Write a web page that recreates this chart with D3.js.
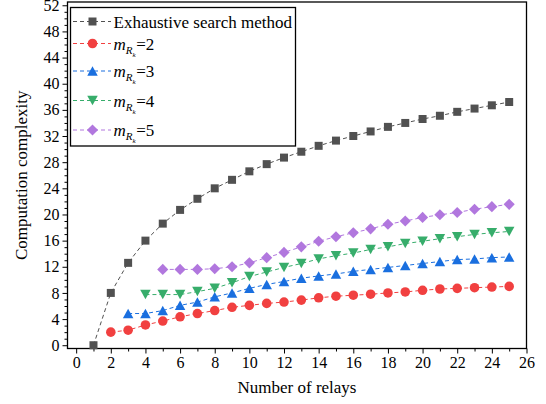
<!DOCTYPE html>
<html>
<head>
<meta charset="utf-8">
<script src="https://cdn.jsdelivr.net/npm/d3@7"></script>
<style>
  html, body { margin: 0; padding: 0; background: #fff; }
  svg { display: block; font-family: "Liberation Serif", "Times New Roman", serif; }
</style>
</head>
<body>
<svg id="chart" width="546" height="404"></svg>
<script>
// Number of relays for each curve
const relaysExhaustive = d3.range(1, 26);
const relaysM2 = d3.range(2, 26);
const relaysM3 = d3.range(3, 26);
const relaysM4 = d3.range(4, 26);
const relaysM5 = d3.range(5, 26);

// Computation complexity values
const exhaustiveValues = [0, 8.0, 12.6, 16.0, 18.6, 20.7, 22.4, 24.0, 25.3, 26.6, 27.7, 28.7, 29.6,
  30.5, 31.3, 32.0, 32.7, 33.4, 34.0, 34.6, 35.1, 35.7, 36.2, 36.7, 37.2];
const m2Values = [2.0, 2.3, 3.1, 3.7, 4.35, 4.85, 5.3, 5.8, 6.1, 6.4, 6.6, 6.9, 7.25, 7.5, 7.65,
  7.8, 8.0, 8.15, 8.4, 8.6, 8.7, 8.8, 8.9, 9.0];
const m3Values = [4.85, 4.85, 5.3, 6.1, 6.6, 7.4, 8.0, 8.7, 9.3, 9.75, 10.25, 10.6, 10.9, 11.3,
  11.6, 11.9, 12.2, 12.5, 12.8, 13.1, 13.2, 13.4, 13.5];
const m4Values = [7.75, 7.75, 7.75, 8.2, 8.7, 9.55, 10.5, 11.2, 11.9, 12.5, 13.2, 13.7, 14.1, 14.65,
  15.05, 15.55, 15.9, 16.3, 16.6, 16.95, 17.2, 17.4];
const m5Values = [11.6, 11.6, 11.6, 11.7, 12.0, 12.6, 13.4, 14.2, 15.05, 15.9, 16.6, 17.2, 17.8,
  18.5, 19.0, 19.55, 19.95, 20.3, 20.8, 21.2, 21.55];

const xTicks = d3.range(0, 27, 2);
const yTicks = d3.range(0, 53, 4);
const xLabel = "Number of relays";
const yLabel = "Computation complexity";

const series = [
  { name: "Exhaustive search method", x: relaysExhaustive, y: exhaustiveValues, color: "#515151", shape: "square" },
  { name: "2", x: relaysM2, y: m2Values, color: "#F14040", shape: "circle" },
  { name: "3", x: relaysM3, y: m3Values, color: "#1A6FDF", shape: "up" },
  { name: "4", x: relaysM4, y: m4Values, color: "#37AD6B", shape: "down" },
  { name: "5", x: relaysM5, y: m5Values, color: "#B177DE", shape: "diamond" }
];

const svg = d3.select("#chart");
const plotLeft = 67.5, plotRight = 526.5, plotTop = 2, plotBottom = 348.5;

const x = d3.scaleLinear().domain([-0.5, 26]).range([plotLeft, plotRight]);
const y = d3.scaleLinear().domain([-0.5, 52.5]).range([plotBottom, plotTop]);

// Marker shapes
function markerPath(shape) {
  if (shape === "square") return d3.symbol(d3.symbolSquare, 64)();
  if (shape === "circle") return d3.symbol(d3.symbolCircle, 72)();
  if (shape === "diamond") return d3.symbol(d3.symbolSquare, 62)();
  const w = 10.5, h = 9.5;
  if (shape === "up") return `M0,${-h / 2}L${w / 2},${h / 2}L${-w / 2},${h / 2}Z`;
  return `M0,${h / 2}L${w / 2},${-h / 2}L${-w / 2},${-h / 2}Z`;
}
function markerTransform(shape, px, py) {
  return shape === "diamond" ? `translate(${px},${py}) rotate(45)` : `translate(${px},${py})`;
}

// Axes
const xAxis = d3.axisBottom(x).tickValues(xTicks).tickSize(5).tickPadding(3).tickFormat(d3.format("d"));
const xMinor = d3.axisBottom(x).tickValues(d3.range(1, 26, 2)).tickSize(3).tickFormat("");
const yAxis = d3.axisLeft(y).tickValues(yTicks).tickSize(5).tickPadding(3).tickFormat(d3.format("d"));
const yMinor = d3.axisLeft(y).tickValues(d3.range(0, 53, 1).filter(v => v % 4 !== 0)).tickSize(3).tickFormat("");

function styleAxis(g) {
  g.select(".domain").remove();
  g.selectAll("line").attr("stroke", "#000").attr("stroke-width", 1);
  g.selectAll("text").attr("fill", "#000").attr("font-size", 16)
    .attr("font-family", "Liberation Serif, Times New Roman, serif");
}

svg.append("g").attr("transform", `translate(0,${plotBottom})`).call(xMinor).call(styleAxis);
svg.append("g").attr("transform", `translate(0,${plotBottom})`).call(xAxis).call(styleAxis);
svg.append("g").attr("transform", `translate(${plotLeft},0)`).call(yMinor).call(styleAxis);
svg.append("g").attr("transform", `translate(${plotLeft},0)`).call(yAxis).call(styleAxis);

// Plot frame
svg.append("rect")
  .attr("x", plotLeft).attr("y", plotTop)
  .attr("width", plotRight - plotLeft).attr("height", plotBottom - plotTop)
  .attr("fill", "none").attr("stroke", "#000").attr("stroke-width", 1.3);

// Series lines and markers
const line = d3.line().x(d => x(d[0])).y(d => y(d[1]));
series.forEach(s => {
  const pts = s.x.map((v, i) => [v, s.y[i]]);
  svg.append("path").datum(pts)
    .attr("d", line)
    .attr("fill", "none")
    .attr("stroke", s.color)
    .attr("stroke-width", 1)
    .attr("stroke-dasharray", "4,3");
  svg.append("g").selectAll("path").data(pts).join("path")
    .attr("d", markerPath(s.shape))
    .attr("transform", d => markerTransform(s.shape, x(d[0]), y(d[1])))
    .attr("fill", s.color);
});

// Legend
const legend = svg.append("g");
legend.append("rect")
  .attr("x", 70.5).attr("y", 7.5).attr("width", 225).attr("height", 138.5)
  .attr("fill", "#fff").attr("stroke", "#000").attr("stroke-width", 1.3);
const rowY = [21.5, 43.5, 71, 100.5, 130];
series.forEach((s, i) => {
  const ry = rowY[i];
  legend.append("line")
    .attr("x1", 73).attr("x2", 111).attr("y1", ry).attr("y2", ry)
    .attr("stroke", s.color).attr("stroke-width", 1).attr("stroke-dasharray", "4,3");
  legend.append("path")
    .attr("d", markerPath(s.shape))
    .attr("transform", markerTransform(s.shape, 92.5, ry))
    .attr("fill", s.color);
  const t = legend.append("text")
    .attr("x", 113.5).attr("y", ry + 6)
    .attr("font-size", 17).attr("fill", "#000");
  if (i === 0) {
    t.text(s.name);
  } else {
    t.append("tspan").attr("font-style", "italic").text("m");
    t.append("tspan").attr("font-style", "italic").attr("font-size", 11).attr("dy", 4).text("R");
    t.append("tspan").attr("font-style", "italic").attr("font-size", 7).attr("dy", 3).text("k");
    t.append("tspan").attr("dy", -7).attr("dx", 0.5).text("=" + s.name);
  }
});

// Axis titles
svg.append("text")
  .attr("x", (plotLeft + plotRight) / 2).attr("y", 393)
  .attr("text-anchor", "middle").attr("font-size", 17).attr("fill", "#000")
  .text(xLabel);
svg.append("text")
  .attr("transform", `translate(27,${(plotTop + plotBottom) / 2}) rotate(-90)`)
  .attr("text-anchor", "middle").attr("font-size", 17).attr("fill", "#000")
  .text(yLabel);
</script>
</body>
</html>
